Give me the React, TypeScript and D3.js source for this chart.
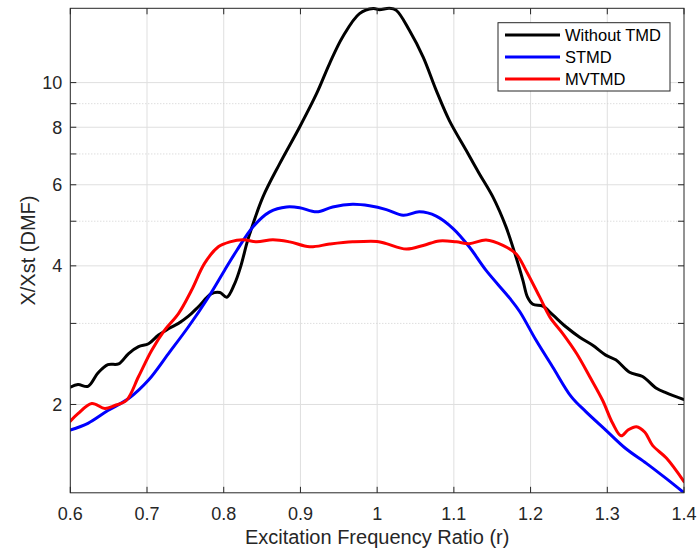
import React from "react";
import * as d3 from "d3";

const withoutTmdR = [0.600,0.610,0.623,0.636,0.649,0.663,0.676,0.689,0.702,0.715,0.728,0.741,0.754,0.767,0.784,0.795,0.804,0.814,0.822,0.830,0.834,0.851,0.873,0.899,0.921,0.938,0.955,0.977,0.995,1.003,1.016,1.025,1.042,1.060,1.077,1.094,1.116,1.133,1.151,1.168,1.181,1.190,1.196,1.203,1.216,1.229,1.246,1.264,1.281,1.298,1.311,1.329,1.346,1.364,1.377,1.400];
const withoutTmdY = [2.18,2.21,2.19,2.34,2.44,2.45,2.58,2.67,2.71,2.83,2.92,3.00,3.11,3.26,3.48,3.50,3.42,3.65,3.98,4.47,4.70,5.64,6.67,8.01,9.46,11.0,12.56,14.12,14.48,14.40,14.50,14.35,12.99,11.36,9.62,8.28,7.13,6.35,5.64,4.86,4.18,3.72,3.42,3.30,3.27,3.13,2.95,2.80,2.69,2.56,2.50,2.35,2.30,2.17,2.12,2.05];

const stmdR = [0.600,0.623,0.649,0.676,0.702,0.728,0.754,0.780,0.801,0.817,0.838,0.860,0.882,0.899,0.921,0.942,0.968,0.990,1.012,1.034,1.055,1.077,1.099,1.120,1.142,1.173,1.186,1.207,1.229,1.253,1.272,1.298,1.324,1.351,1.377,1.400];
const stmdY = [1.76,1.82,1.94,2.06,2.26,2.58,2.95,3.42,3.91,4.32,4.86,5.24,5.37,5.35,5.24,5.37,5.44,5.40,5.30,5.15,5.24,5.13,4.82,4.40,3.91,3.40,3.18,2.76,2.41,2.08,1.93,1.76,1.605,1.49,1.38,1.286];

const mvtmdR = [0.600,0.610,0.628,0.645,0.658,0.673,0.689,0.706,0.723,0.741,0.758,0.775,0.793,0.808,0.825,0.843,0.864,0.886,0.912,0.938,0.968,1.000,1.012,1.038,1.060,1.081,1.103,1.120,1.142,1.164,1.181,1.194,1.212,1.225,1.242,1.260,1.277,1.294,1.307,1.318,1.327,1.338,1.349,1.359,1.377,1.400];
const mvtmdY = [1.84,1.91,2.01,1.96,1.99,2.04,2.30,2.62,2.90,3.15,3.54,4.05,4.40,4.51,4.56,4.51,4.56,4.51,4.40,4.46,4.51,4.52,4.47,4.35,4.43,4.53,4.51,4.47,4.55,4.43,4.25,3.91,3.42,3.10,2.85,2.58,2.30,2.04,1.82,1.71,1.76,1.79,1.74,1.63,1.53,1.36];

const seriesNames = ["Without TMD", "STMD", "MVTMD"];
const seriesColors = ["#000000", "#0000ff", "#ff0000"];

const xTicks = [0.6, 0.7, 0.8, 0.9, 1.0, 1.1, 1.2, 1.3, 1.4];
const xTickLabels = ["0.6", "0.7", "0.8", "0.9", "1", "1.1", "1.2", "1.3", "1.4"];
const yTicks = [2, 4, 6, 8, 10];
const yMinor = [3, 5, 7, 9];
const xDomain = [0.6, 1.4];
const yDomain = [1.286, 14.5];

const W = 700, H = 555;
const L = 70.3, R = 684, T = 8.3, B = 492.8;
const FONT = "'Liberation Sans', Arial, Helvetica, sans-serif";
const AX = "#262626";

export default function App() {
  const x = d3.scaleLinear().domain(xDomain).range([L, R]);
  const y = d3.scaleLog().domain(yDomain).range([B, T]);
  const line = d3
    .line<[number, number]>()
    .x((d) => x(d[0]))
    .y((d) => y(d[1]))
    .curve(d3.curveCatmullRom.alpha(0.5));

  const series = [
    withoutTmdR.map((r, i) => [r, withoutTmdY[i]] as [number, number]),
    stmdR.map((r, i) => [r, stmdY[i]] as [number, number]),
    mvtmdR.map((r, i) => [r, mvtmdY[i]] as [number, number]),
  ];

  const allY = [...yTicks, ...yMinor].sort((a, b) => a - b);
  const tickLen = 6;

  return (
    <svg width={W} height={H} style={{ position: "absolute", left: 0, top: 0, background: "#fff" }} fontFamily={FONT}>
      <defs>
        <clipPath id="plotclip">
          <rect x={L} y={T - 2} width={R - L} height={B - T + 2} />
        </clipPath>
      </defs>
      <rect x={0} y={0} width={W} height={H} fill="#fff" />
      {/* grid */}
      {xTicks.slice(1, -1).map((t) => (
        <line key={"gx" + t} x1={x(t)} x2={x(t)} y1={T} y2={B} stroke="#dfdfdf" strokeWidth={1} />
      ))}
      {yTicks.map((t) => (
        <line key={"gy" + t} x1={L} x2={R} y1={y(t)} y2={y(t)} stroke="#dfdfdf" strokeWidth={1} />
      ))}
      {yMinor.map((t) => (
        <line key={"gm" + t} x1={L} x2={R} y1={y(t)} y2={y(t)} stroke="#cfcfcf" strokeWidth={1} strokeDasharray="1,2" />
      ))}
      {/* data */}
      <g clipPath="url(#plotclip)">
        {series.map((s, i) => (
          <path key={i} d={line(s) || ""} fill="none" stroke={seriesColors[i]} strokeWidth={3} strokeLinejoin="round" strokeLinecap="round" />
        ))}
      </g>
      {/* box */}
      <rect x={L} y={T} width={R - L} height={B - T} fill="none" stroke={AX} strokeWidth={1} />
      {/* ticks */}
      {xTicks.map((t) => (
        <g key={"tx" + t}>
          <line x1={x(t)} x2={x(t)} y1={B} y2={B - tickLen} stroke={AX} />
          <line x1={x(t)} x2={x(t)} y1={T} y2={T + tickLen} stroke={AX} />
          <text x={x(t)} y={520} textAnchor="middle" fontSize={18} fill={AX}>
            {xTickLabels[xTicks.indexOf(t)]}
          </text>
        </g>
      ))}
      {allY.map((t) => (
        <g key={"ty" + t}>
          <line x1={L} x2={L + tickLen} y1={y(t)} y2={y(t)} stroke={AX} />
          <line x1={R} x2={R - tickLen} y1={y(t)} y2={y(t)} stroke={AX} />
        </g>
      ))}
      {yTicks.map((t) => (
        <text key={"yl" + t} x={L - 8} y={y(t) + 6.5} textAnchor="end" fontSize={18} fill={AX}>
          {String(t)}
        </text>
      ))}
      {/* axis labels */}
      <text x={(L + R) / 2} y={544} textAnchor="middle" fontSize={20} fill={AX}>
        Excitation Frequency Ratio (r)
      </text>
      <text transform={`translate(35, ${(T + B) / 2}) rotate(-90)`} textAnchor="middle" fontSize={20} fill={AX}>
        X/Xst (DMF)
      </text>
      {/* legend */}
      <rect x={498} y={22.7} width={172} height={68.3} fill="#fff" stroke={AX} strokeWidth={1} />
      {seriesNames.map((n, i) => {
        const ly = 35 + i * 22;
        return (
          <g key={"lg" + i}>
            <line x1={505} x2={560} y1={ly} y2={ly} stroke={seriesColors[i]} strokeWidth={3} />
            <text x={565} y={ly + 6} fontSize={16.5} fill="#000">
              {n}
            </text>
          </g>
        );
      })}
    </svg>
  );
}
